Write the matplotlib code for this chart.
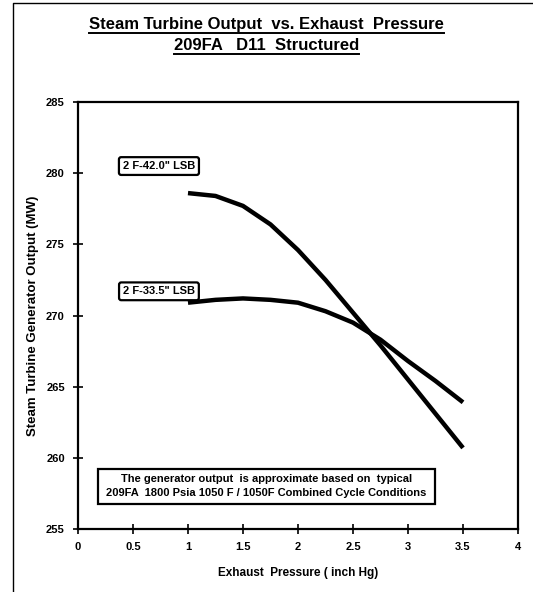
import matplotlib
matplotlib.use("Agg")
import matplotlib.pyplot as plt
from matplotlib.lines import Line2D
from matplotlib.patches import Rectangle

plt.rcParams['font.family'] = ['Liberation Sans', 'DejaVu Sans']
plt.rcParams['font.weight'] = 'bold'
plt.rcParams['axes.labelweight'] = 'bold'

# exhaust pressure (inch Hg) vs generator output (MW)
pressure = [1.0, 1.25, 1.5, 1.75, 2.0, 2.25, 2.5, 2.75, 3.0, 3.25, 3.5]
output_42 = [278.6, 278.4, 277.7, 276.4, 274.6, 272.5, 270.2, 267.9, 265.5, 263.1, 260.7]
output_335 = [270.9, 271.1, 271.2, 271.1, 270.9, 270.3, 269.5, 268.3, 266.8, 265.4, 263.9]

label_42 = '2 F-42.0" LSB'
label_335 = '2 F-33.5" LSB'
note = ("The generator output  is approximate based on  typical\n"
        "209FA  1800 Psia 1050 F / 1050F Combined Cycle Conditions")

x_ticks = [0, 0.5, 1, 1.5, 2, 2.5, 3, 3.5, 4]
x_tick_labels = ['0', '0.5', '1', '1.5', '2', '2.5', '3', '3.5', '4']
y_ticks = [255, 260, 265, 270, 275, 280, 285]

fig = plt.figure(figsize=(5.33, 5.92), dpi=100)
ax = fig.add_axes([0.1463, 0.1064, 0.8256, 0.7213])

for out in (output_42, output_335):
    ax.plot(pressure, out, color='black', lw=3.2, solid_capstyle='butt',
            solid_joinstyle='round', zorder=3)

ax.set_xlim(0, 4)
ax.set_ylim(255, 285)
ax.set_xticks(x_ticks)
ax.set_xticklabels(x_tick_labels)
ax.set_yticks(y_ticks)
ax.tick_params(direction='inout', length=7, width=1.2, labelsize=8, pad=6)
for side in ax.spines.values():
    side.set_linewidth(1.6)

box = dict(boxstyle='round,pad=0.35,rounding_size=0.2', fc='white', ec='black', lw=1.6)
ax.text(0.736, 280.5, label_42, ha='center', va='center', fontsize=8, bbox=box, zorder=5)
ax.text(0.736, 271.7, label_335, ha='center', va='center', fontsize=8, bbox=box, zorder=5)

ax.add_patch(Rectangle((0.18, 256.77), 3.065, 2.46, fc='white', ec='black', lw=1.6, zorder=4))
ax.text(1.71, 258.0, note, ha='center', va='center', fontsize=8, linespacing=1.5, zorder=5)

ax.set_xlabel('Exhaust  Pressure ( inch Hg)', fontsize=8.5, labelpad=11)
ax.set_ylabel('Steam Turbine Generator Output (MW)', fontsize=9.5, labelpad=5)

# underlined two-line title
t1 = fig.text(0.5, 1 - 25 / 592, 'Steam Turbine Output  vs. Exhaust  Pressure',
              ha='center', va='center', fontsize=12)
t2 = fig.text(0.5, 1 - 46 / 592, '209FA   D11  Structured',
              ha='center', va='center', fontsize=12)
fig.canvas.draw()
r = fig.canvas.get_renderer()
for t in (t1, t2):
    bb = t.get_window_extent(r).transformed(fig.transFigure.inverted())
    fig.add_artist(Line2D([bb.x0, bb.x1], [bb.y0 - 0.001, bb.y0 - 0.001],
                          transform=fig.transFigure, color='black', lw=1.4))

# scanned page frame
fig.add_artist(Line2D([13 / 533, 13 / 533, 1.0], [0.0, 1 - 3 / 592, 1 - 3 / 592],
                      transform=fig.transFigure, color='black', lw=1))

fig.savefig('out.png', dpi=100)
